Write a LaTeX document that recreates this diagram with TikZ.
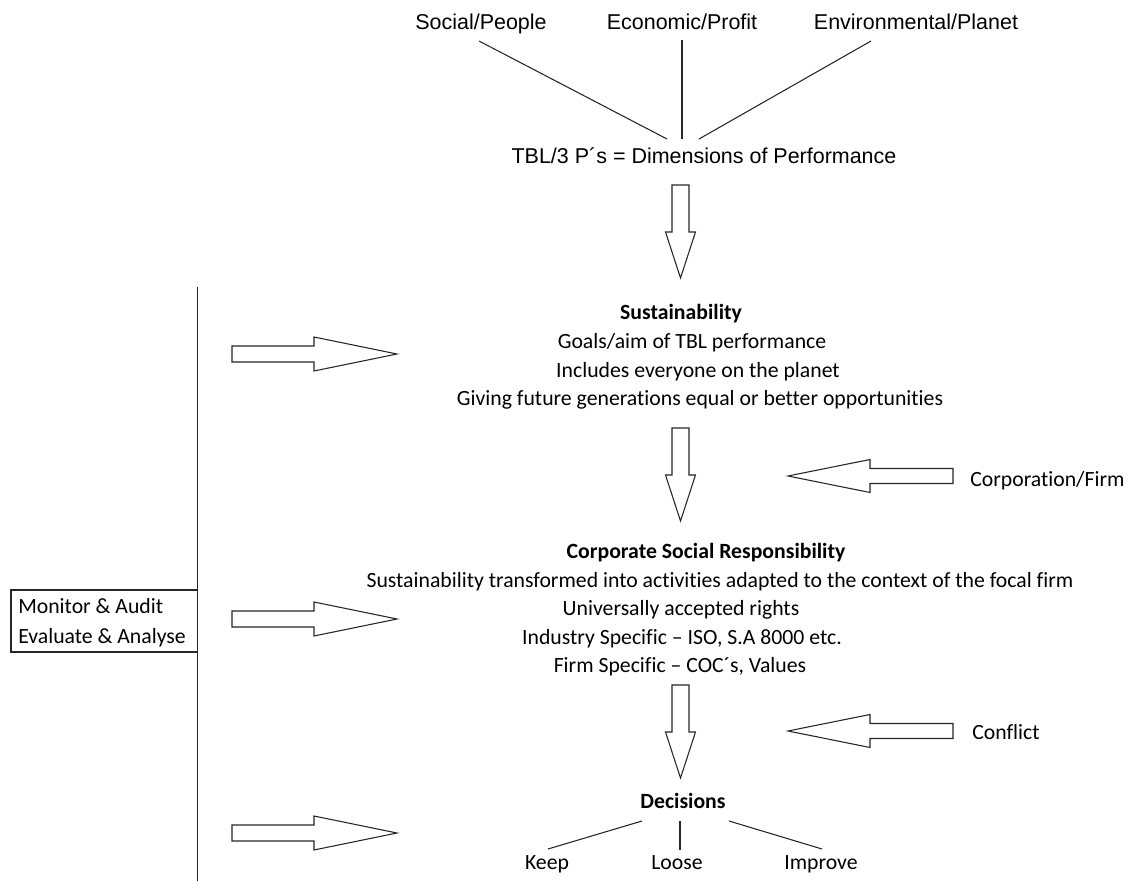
\documentclass[tikz,border=0pt]{standalone}
\usepackage{fontspec}
\setmainfont[Ligatures=NoCommon]{Carlito}
\newfontfamily\arialf{Liberation Sans}
\begin{document}
\begin{tikzpicture}[x=0.75pt,y=-0.75pt,
  lbl/.style={font=\fontsize{16.3}{19}\selectfont, inner sep=0pt, anchor=base},
  lblb/.style={lbl, font=\fontsize{16.3}{19}\selectfont\bfseries},
  lbll/.style={lbl, anchor=base west},
  toplbl/.style={font=\arialf\fontsize{16.1}{20}\selectfont, inner sep=0pt, anchor=base},
  ln/.style={line width=0.8pt, draw=black!85},
  blk/.style={line width=0.8pt, draw=black!85, fill=white},
  downblk/.pic={\draw[blk] (-8.5,0) -- (8.5,0) -- (8.5,47) -- (15,47) -- (0,93) -- (-15,47) -- (-8.5,47) -- cycle;},
  rightblk/.pic={\draw[blk] (0,-8) -- (82,-8) -- (82,-17) -- (165,0) -- (82,17) -- (82,8) -- (0,8) -- cycle;},
  leftblk/.pic={\draw[blk] (0,0) -- (82,-16.5) -- (82,-7.5) -- (165,-7.5) -- (165,7.5) -- (82,7.5) -- (82,16.5) -- cycle;}]
\useasboundingbox (0,0) rectangle (1129,881);

% top labels
\node[toplbl] (social) at (481,30) {Social/People};
\node[toplbl] (econ) at (682,30) {Economic/Profit};
\node[toplbl] (env) at (916,30) {Environmental/Planet};
\node[toplbl] (tbl) at (704,163) {TBL/3 P´s = Dimensions of Performance};

\coordinate (s1) at (479,41);
\coordinate (s2) at (667,139);
\coordinate (e1) at (682,40);
\coordinate (e2) at (682,139);
\coordinate (v1) at (871,41);
\coordinate (v2) at (699,139);
\draw[ln] (s1) -- (s2);
\draw[ln] (e1) -- (e2);
\draw[ln] (v1) -- (v2);

% down arrows
\pic at (680.5,185) {downblk};
\pic at (680.5,428) {downblk};
\pic at (680.5,685) {downblk};

% sustainability block
\node[lblb] (sust) at (681,319) {Sustainability};
\node[lbl] (s_a) at (692,348) {Goals/aim of TBL performance};
\node[lbl] (s_b) at (698,377) {Includes everyone on the planet};
\node[lbl] (s_c) at (700,405) {Giving future generations equal or better opportunities};

% CSR block
\node[lblb] (csr) at (706,558) {Corporate Social Responsibility};
\node[lbl] (c_a) at (720,587) {Sustainability transformed into activities adapted to the context of the focal firm};
\node[lbl] (c_b) at (681,615) {Universally accepted rights};
\node[lbl] (c_c) at (682,644) {Industry Specific – ISO, S.A 8000 etc.};
\node[lbl] (c_d) at (680,672) {Firm Specific – COC´s, Values};

% side inputs
\pic at (788,476) {leftblk};
\node[lbll] (corp) at (970,486) {Corporation/Firm};
\pic at (788,731) {leftblk};
\node[lbll] (confl) at (972,739) {Conflict};

% decisions
\node[lblb] (dec) at (683,808) {Decisions};
\node[lbl] (keep) at (547,869) {Keep};
\node[lbl] (loose) at (677,869) {Loose};
\node[lbl] (impr) at (821,869) {Improve};
\coordinate (d1) at (642,821);
\coordinate (k1) at (548,849);
\coordinate (d2) at (680,821);
\coordinate (l1) at (680,850);
\coordinate (d3) at (729,821);
\coordinate (i1) at (822,849);
\draw[ln] (d1) -- (k1);
\draw[ln] (d2) -- (l1);
\draw[ln] (d3) -- (i1);

% monitor side
\coordinate (vt) at (197.5,287);
\coordinate (vb) at (197.5,881);
\draw[ln] (vt) -- (vb);
\draw[ln] (11,590) rectangle (197.5,652);
\node[lbll] (mon) at (18,613) {Monitor \& Audit};
\node[lbll] (eva) at (18,643) {Evaluate \& Analyse};

\pic at (232,354) {rightblk};
\pic at (232,619) {rightblk};
\pic at (232,833) {rightblk};
\end{tikzpicture}
\end{document}
